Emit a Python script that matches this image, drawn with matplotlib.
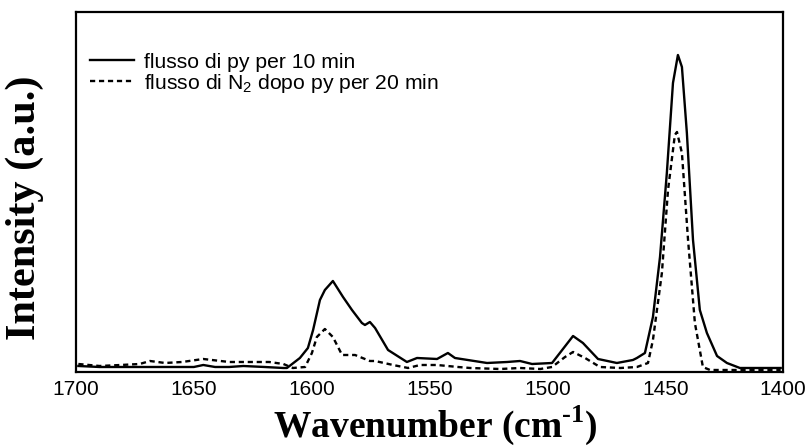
import matplotlib
matplotlib.use("Agg")
import matplotlib.pyplot as plt

plt.rcParams['mathtext.fontset'] = 'custom'
plt.rcParams['mathtext.rm'] = 'Liberation Sans'
plt.rcParams['mathtext.it'] = 'Liberation Sans:italic'
plt.rcParams['mathtext.bf'] = 'Liberation Serif:bold'

# Spectrum after 10 min pyridine flow
wn_py = [1699, 1690, 1670, 1655, 1650, 1646, 1641, 1635, 1629, 1620, 1612, 1610.5,
         1605, 1601.6, 1599.4, 1596.5, 1594.4, 1591, 1586.7, 1582.9, 1578.7, 1577.4,
         1575.3, 1573.1, 1567.6, 1559.6, 1555.3, 1546.8, 1542.2, 1539.2, 1525.6,
         1517.1, 1511.6, 1506.5, 1498, 1494.7, 1489.1, 1484.9, 1478.5, 1470.5,
         1463.7, 1462, 1458.6, 1455.2, 1452.2, 1449.3, 1446.7, 1444.6, 1442.9,
         1440.8, 1438.2, 1435.3, 1432.3, 1428, 1423.8, 1418.3, 1410, 1401]
int_py = [6, 5, 5, 5, 5, 7, 5, 5, 6, 5, 4, 4,
          14, 24, 42, 72, 82, 91, 75, 62, 49, 47,
          50, 44, 22, 10, 14, 13, 19, 14, 9,
          10, 11, 8, 9, 19, 36, 29, 13, 9,
          12, 14, 19, 55, 115, 199, 289, 317, 305,
          239, 132, 62, 39, 16, 9, 4, 4, 4]

# Spectrum after 20 min N2 flow following pyridine
wn_n2 = [1699, 1690, 1681, 1673, 1668.6, 1662.2, 1655, 1646, 1635, 1626, 1618, 1612,
         1608, 1602.8, 1599.9, 1597.8, 1594.4, 1591, 1587.1, 1581.6, 1575.3, 1573.1,
         1565.5, 1559.1, 1554, 1546.8, 1537.9, 1532.8, 1520, 1511.6, 1503, 1498,
         1492.5, 1489.1, 1484, 1477.7, 1469, 1462, 1457.3, 1455.2, 1451.4, 1448.8,
         1445.9, 1445, 1442.9, 1440.3, 1437.4, 1434, 1431, 1418, 1401]
int_n2 = [8, 6, 7, 8, 11, 9, 10, 13, 10, 10, 10, 8,
          4, 5, 19, 35, 43, 35, 17, 17, 11, 11,
          7, 4, 7, 7, 5, 4, 3, 4, 3, 5,
          15, 20, 14, 5, 4, 5, 9, 32, 99, 182,
          237, 240, 219, 132, 49, 5, 2, 2, 2]

x_ticks = [1700, 1650, 1600, 1550, 1500, 1450, 1400]

fig = plt.figure(figsize=(8.06, 4.47), dpi=100)
ax = fig.add_axes([0.0943, 0.1678, 0.8772, 0.8054])

ax.plot(wn_py, int_py, color='black', lw=1.7, solid_joinstyle='round',
        label='flusso di py per 10 min')
ax.plot(wn_n2, int_n2, color='black', lw=1.7, dashes=(2.2, 1.6),
        label=r'flusso di N$_{\mathrm{2}}$ dopo py per 20 min')

ax.set_xlim(1700, 1400)
ax.set_ylim(0, 360)
ax.set_xticks(x_ticks)
ax.set_xticklabels([str(t) for t in x_ticks], family='Liberation Sans', fontsize=15)
ax.tick_params(axis='x', length=0, pad=6)
ax.set_yticks([])
for s in ax.spines.values():
    s.set_linewidth(1.6)

ax.set_xlabel('Wavenumber (cm$^{\\mathbf{\u20101}}$)', family='Liberation Serif',
              fontweight='bold', fontsize=27)
ax.xaxis.set_label_coords(0.508, -0.088)
ax.set_ylabel('Intensity (a.u.)', family='Liberation Serif', fontweight='bold',
              fontsize=30.5)
ax.yaxis.set_label_coords(-0.045, 0.456)

leg = ax.legend(loc='upper left', bbox_to_anchor=(0.02, 0.887), frameon=False,
                prop={'family': 'Liberation Sans', 'size': 15.2},
                handlelength=2.1, handletextpad=0.45, labelspacing=0.0,
                borderaxespad=0.0, borderpad=0.0)

fig.savefig('out.png', dpi=100)
